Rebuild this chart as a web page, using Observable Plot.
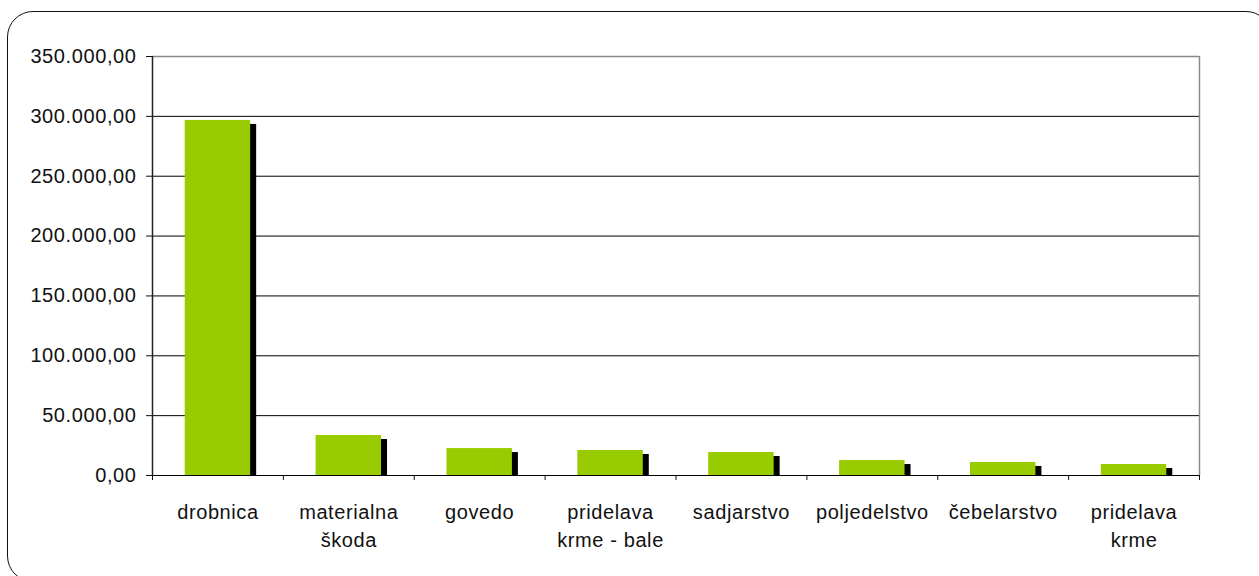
<!DOCTYPE html>
<html><head><meta charset="utf-8">
<script src="https://cdn.jsdelivr.net/npm/d3@7"></script>
<script src="https://cdn.jsdelivr.net/npm/@observablehq/plot@0.6"></script>
<style>
html,body{margin:0;padding:0;background:#fff;overflow:hidden;width:1259px;height:576px;}
#chart{position:absolute;left:0;top:0;}
#border{position:absolute;left:7px;top:11px;width:1265px;height:571px;border:1.5px solid #111;border-radius:26px;box-sizing:border-box;pointer-events:none;}
</style></head><body>
<div id="chart"></div><div id="border"></div>
<script>
const categories = ["drobnica", "materialna škoda", "govedo", "pridelava krme - bale", "sadjarstvo", "poljedelstvo", "čebelarstvo", "pridelava krme"];
const labels = ["drobnica", "materialna\nškoda", "govedo", "pridelava\nkrme - bale", "sadjarstvo", "poljedelstvo", "čebelarstvo", "pridelava\nkrme"];
const values = [296600, 33400, 22500, 20900, 19200, 12500, 10900, 9200];
const yTicks = [0, 50000, 100000, 150000, 200000, 250000, 300000, 350000];

const data = categories.map((c, i) => ({category: c, label: labels[i], value: values[i]}));
const W = 1259, H = 576, mL = 152, mR = 60, mT = 56, mB = 101;
const step = (W - mL - mR) / categories.length;
const fmt = d3.formatLocale({decimal: ",", thousands: ".", grouping: [3], currency: ["", ""]}).format(",.2f");
const last = categories[categories.length - 1];

const chart = Plot.plot({
  width: W, height: H,
  marginLeft: mL, marginRight: mR, marginTop: mT, marginBottom: mB,
  style: {fontFamily: "'Liberation Sans', Arial, sans-serif", fontSize: "20px", color: "#111", background: "white", letterSpacing: "0.6px"},
  x: {domain: categories, paddingInner: 0.5, paddingOuter: 0.25, round: false, axis: null, label: null},
  y: {domain: [0, 350000], axis: null, label: null},
  marks: [
    Plot.ruleY(yTicks.filter(t => t < 350000), {stroke: "#000", strokeWidth: 1}),
    Plot.ruleY([350000], {stroke: "#8a8a8a", strokeWidth: 1.5}),
    Plot.ruleX([last], {x: d => d, dx: step / 2, stroke: "#8a8a8a", strokeWidth: 1.5}),
    Plot.barY(data, {x: "category", y: "value", fill: "#000", dx: 6, insetTop: 4}),
    Plot.barY(data, {x: "category", y: "value", fill: "#99CC00"}),
    Plot.ruleX([categories[0]], {x: d => d, dx: -step / 2, stroke: "#222", strokeWidth: 1.5}),
    Plot.ruleX(categories, {x: d => d, dx: -step / 2, y1: 0, y2: 0, insetBottom: -5, stroke: "#111", strokeWidth: 1}),
    Plot.ruleX([last], {x: d => d, dx: step / 2, y1: 0, y2: 0, insetBottom: -5, stroke: "#111", strokeWidth: 1}),
    Plot.axisY({ticks: yTicks, tickFormat: fmt, tickSize: 6, tickPadding: 10, fontSize: 20, stroke: "#111", label: null}),
    Plot.text(data, {x: "category", text: "label", frameAnchor: "bottom", lineAnchor: "top", dy: 23, lineHeight: 1.43, fontSize: 20, fill: "#111"})
  ]
});
document.getElementById("chart").appendChild(chart);
</script>
</body></html>
